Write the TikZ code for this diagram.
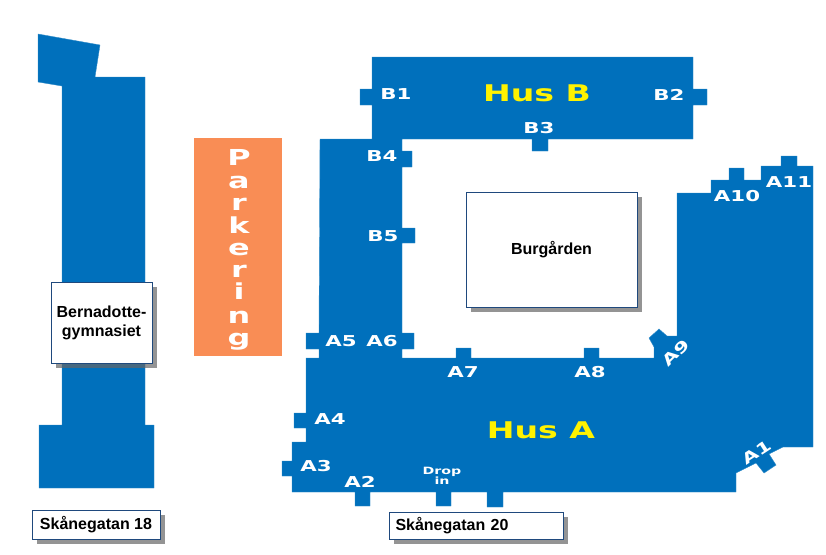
\documentclass[tikz,border=0pt]{standalone}
\usepackage{fontspec}
\setmainfont{Liberation Sans}
\newfontfamily\doorfont{DejaVu Sans}
\usetikzlibrary{shadows}
\definecolor{husblue}{HTML}{0070BC}
\definecolor{parkorange}{HTML}{F98D55}
\definecolor{boxblue}{HTML}{1F497D}
\tikzset{
    building/.style={fill=husblue, draw=husblue!80!white, line width=0.4pt},
    infobox/.style={draw=boxblue, line width=0.8pt, fill=white, font=\bfseries\fontsize{16}{19}\selectfont, text=black, inner sep=0pt, align=center,
        drop shadow={shadow xshift=5pt, shadow yshift=-5pt, fill=black!60, opacity=0.7}},
    doorlabel/.style={text=white, font=\doorfont\bfseries\fontsize{15}{15}\selectfont, xscale=1.42, inner sep=0pt},
    huslabel/.style={text=yellow, font=\doorfont\bfseries\fontsize{23}{23}\selectfont, xscale=1.44, inner sep=0pt},
    parklabel/.style={text=white, font=\doorfont\bfseries\fontsize{22}{22}\selectfont, xscale=1.45, inner sep=0pt, anchor=base}
}
\begin{document}
\begin{tikzpicture}[x=1pt, y=-1pt]
    \useasboundingbox (0,0) rectangle (826,554);

    % Skanegatan 18
    \draw[building] (38,34) -- (100,45) -- (95,77) -- (145,77) -- (145,425) -- (154,425) -- (154,488)
        -- (39,488) -- (39,425) -- (62,425) -- (62,86) -- (38,82) -- cycle;

    % Parkering
    \fill[parkorange] (194,138) rectangle (282,356);
    \foreach \letter/\y [count=\i] in {P/165, a/188, r/210, k/233, e/255, r/277, i/299, n/323, g/345} {
        \node[parklabel] (park\i) at (239,\y) {\letter};
    }

    % Hus A och Hus B
    \draw[building] (372,57) -- (693,57) -- (693,89) -- (707,89) -- (707,105) -- (693,105) -- (693,139)
        -- (548,139) -- (548,151) -- (532,151) -- (532,139) -- (402,139)
        -- (402,151) -- (412,151) -- (412,167) -- (402,167)
        -- (402,228) -- (415,228) -- (415,243) -- (402,243)
        -- (402,333) -- (414,333) -- (414,349) -- (402,349) -- (402,358)
        -- (456,358) -- (456,348) -- (471,348) -- (471,358)
        -- (584,358) -- (584,348) -- (599,348) -- (599,358) -- (654,358)
        -- (654,347) -- (649,338) -- (659,329) -- (667,336) -- (677,336)
        -- (677,193) -- (711,193) -- (711,180) -- (729,180) -- (729,168) -- (744,168) -- (744,180)
        -- (761,180) -- (761,166) -- (781,166) -- (781,156) -- (797,156) -- (797,166) -- (813,166)
        -- (813,447) -- (783,447) -- (769,454) -- (776,465) -- (764,473) -- (756,463) -- (736,473) -- (736,492)
        -- (503,492) -- (503,507) -- (487,507) -- (487,492)
        -- (451,492) -- (451,506) -- (436,506) -- (436,492)
        -- (370,492) -- (370,506) -- (355,506) -- (355,492) -- (292,492)
        -- (292,476) -- (282,476) -- (282,461) -- (292,461) -- (292,442) -- (306,442)
        -- (306,428) -- (294,428) -- (294,413) -- (306,413) -- (306,358)
        -- (319,358) -- (319,349) -- (306,349) -- (306,333) -- (319,333)
        -- (320,139) -- (372,139) -- (372,105) -- (360,105) -- (360,89) -- (372,89) -- cycle;

    % Dorrar
    \foreach \door/\x/\y in {B1/396/94, B2/669/95, B3/539/128, B4/382/156, B5/383/236,
        A2/360/482, A3/316/466, A4/330/419, A5/341/341, A6/382/341, A7/463/372, A8/590/372, A10/737/196, A11/789/182} {
        \node[doorlabel] (\door) at (\x,\y) {\door};
    }
    \node[rotate=45, doorlabel] (A9) at (676,353) {A9};
    \node[rotate=33, doorlabel] (A1) at (757,452) {A1};
    \node[doorlabel, font=\doorfont\bfseries\fontsize{10}{10.5}\selectfont, align=center] (dropin) at (442,476) {Drop\\in};

    \node[huslabel] (husB) at (537,93) {Hus B};
    \node[huslabel] (husA) at (541,430) {Hus A};

    % Rutor
    \node[infobox, minimum width=101pt, minimum height=81pt] (bernadotte) at (101.5,322.5) {Bernadotte-\\gymnasiet};
    \node[infobox, minimum width=171pt, minimum height=115pt] (burgarden) at (551.5,249.5) {Burgården};
    \node[infobox, minimum width=128pt, minimum height=29pt] (skane18) at (96,524.5) {Skånegatan 18};
    \node[infobox, minimum width=174pt, minimum height=27pt, align=left, text width=161pt] (skane20) at (476,525.5) {Skånegatan 20};
\end{tikzpicture}
\end{document}
